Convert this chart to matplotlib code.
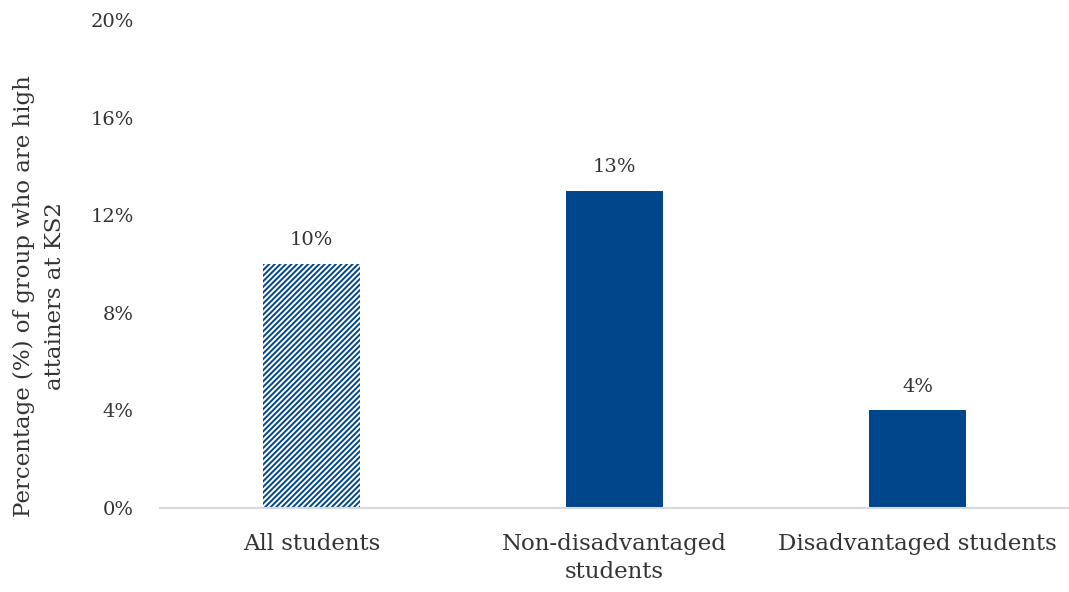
import matplotlib
matplotlib.use("Agg")
import matplotlib.pyplot as plt
import numpy as np

categories = ["All students", "Non-disadvantaged\nstudents", "Disadvantaged students"]
values = [10, 13, 4]
value_labels = ["10%", "13%", "4%"]
yticks = [0, 4, 8, 12, 16, 20]

blue = "#00468b"
text_col = "#333333"

plt.rcParams['font.family'] = ['DejaVu Serif']
plt.rcParams['hatch.linewidth'] = 1.4

fig = plt.figure(figsize=(10.69, 5.92), dpi=100)
ax = fig.add_axes([0.1497, 0.142, 0.8503, 0.824])

x = np.arange(len(categories))
bars = ax.bar(x, values, width=0.32, color=blue, edgecolor=blue, linewidth=0)
# first bar is hatched (all students)
bars[0].set_facecolor("white")
bars[0].set_hatch("//////")
bars[0].set_edgecolor(blue)

for xi, v, lab in zip(x, values, value_labels):
    ax.text(xi, v + 0.6, lab, ha="center", va="bottom", fontsize=14, color=text_col)

ax.set_xlim(-0.5, 2.5)
ax.set_ylim(0, 20)
ax.set_yticks(yticks)
ax.set_yticklabels([f"{t}%" for t in yticks])
ax.set_xticks(x)
ax.set_xticklabels(categories, fontsize=16.5, color=text_col, linespacing=1.35)
ax.tick_params(axis="y", length=0, pad=19, labelsize=14, labelcolor=text_col)
ax.tick_params(axis="x", length=0, pad=18)

for s in ["top", "right", "left"]:
    ax.spines[s].set_visible(False)
ax.spines["bottom"].set_color("#d9d9d9")
ax.spines["bottom"].set_linewidth(1.5)

fig.text(0.037, 0.50, "Percentage (%) of group who are high\nattainers at KS2",
         rotation=90, ha="center", va="center", fontsize=16.5, color=text_col,
         linespacing=1.5)

fig.savefig("out.png", dpi=100)
